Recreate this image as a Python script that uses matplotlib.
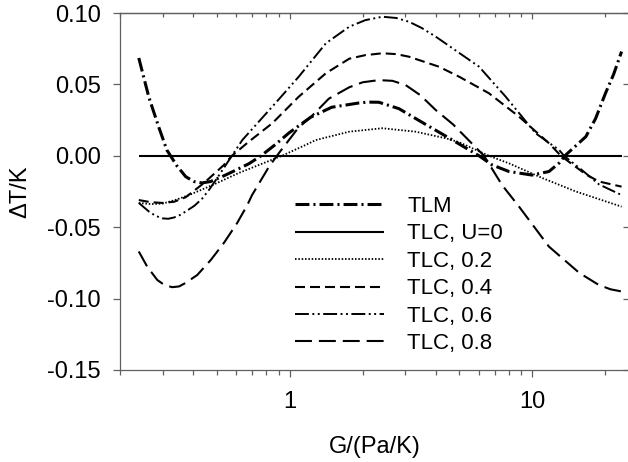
import matplotlib
matplotlib.use('Agg')
import matplotlib.pyplot as plt
from matplotlib.ticker import FixedLocator, NullFormatter, NullLocator

plt.rcParams['font.family'] = ['Liberation Sans', 'DejaVu Sans']
plt.rcParams['lines.scale_dashes'] = False

# ---- data ----
G_tlm = [0.239, 0.263, 0.289, 0.312, 0.323, 0.343, 0.373, 0.403, 0.435, 0.473,
         0.536, 0.618, 0.680, 0.762, 0.875, 0.993, 1.22, 1.49, 1.93, 2.1, 2.33,
         2.82, 3.63, 4.53, 6.03, 6.82, 8.01, 9.96, 11.7, 12.9, 13.6,
         16.6, 18.2, 20.0, 21.6, 23.3]
dT_tlm = [0.0685, 0.041, 0.020, 0.004, 0.0, -0.007, -0.0146, -0.018, -0.019, -0.018,
          -0.014, -0.009, -0.0055, 0.0, 0.008, 0.016, 0.027, 0.034, 0.037, 0.0376, 0.0375,
          0.033, 0.022, 0.0125, 0.0, -0.0064, -0.011, -0.0135, -0.011, -0.005, 0.0,
          0.0134, 0.026, 0.0438, 0.057, 0.073]

G_u0 = [0.239, 23.3]
dT_u0 = [0.0, 0.0]

G_02 = [0.239, 0.268, 0.299, 0.337, 0.385, 0.488, 0.618, 0.929, 1.16, 1.28,
        1.76, 2.41, 3.30, 4.39, 4.99, 6.62, 8.01, 11.0, 15.1, 23.3]
dT_02 = [-0.033, -0.0338, -0.0335, -0.031, -0.0275, -0.020, -0.012, 0.0, 0.0075, 0.011,
         0.0169, 0.0193, 0.0169, 0.0123, 0.0095, 0.0, -0.0053, -0.0156, -0.025, -0.0356]

G_04 = [0.239, 0.268, 0.299, 0.334, 0.373, 0.444, 0.536, 0.578, 0.680, 0.848,
        1.09, 1.41, 1.76, 2.05, 2.41, 2.75, 3.10, 4.12, 4.99, 6.62, 8.81, 11.7,
        13.1, 16.6, 18.8, 23.3]
dT_04 = [-0.031, -0.0325, -0.033, -0.0322, -0.029, -0.019, -0.0064, 0.0, 0.010, 0.0228,
         0.0414, 0.0578, 0.068, 0.0705, 0.0718, 0.0712, 0.0694, 0.0624, 0.0554, 0.0438, 0.0274, 0.0088,
         0.0, -0.013, -0.018, -0.0216]

G_06 = [0.239, 0.263, 0.28, 0.299, 0.316, 0.334, 0.353, 0.373, 0.405, 0.436, 0.467, 0.501,
        0.578, 0.638, 0.747, 0.875, 1.09, 1.41, 1.76, 2.05, 2.41, 2.75, 3.10, 3.5, 4.00,
        6.03, 7.76, 10.3, 12.9, 13.5, 16.0, 18.8, 23.3]
dT_06 = [-0.033, -0.039, -0.042, -0.0438, -0.0441, -0.0432, -0.0415, -0.039, -0.035, -0.030,
         -0.0235, -0.016, 0.0, 0.011, 0.024, 0.037, 0.0554, 0.0788, 0.0904, 0.0950, 0.0974,
         0.0965, 0.0939, 0.0895, 0.0834, 0.0624, 0.0414, 0.0158, 0.004, 0.0, -0.010, -0.020,
         -0.0275]

G_08 = [0.239, 0.259, 0.285, 0.305, 0.328, 0.35, 0.373, 0.416, 0.473, 0.536, 0.608, 0.669,
        0.700, 0.822, 0.904, 1.09, 1.22, 1.45, 1.76, 2.0, 2.33, 2.65, 3.00, 3.45, 4.00,
        4.71, 6.32, 7.50, 8.81, 11.7, 15.6, 18.8, 21.0, 23.3]
dT_08 = [-0.067, -0.0777, -0.087, -0.0905, -0.092, -0.0915, -0.089, -0.0835, -0.073,
         -0.061, -0.047, -0.0345, -0.0275, -0.0076, 0.002, 0.020, 0.027, 0.040, 0.048,
         0.0515, 0.053, 0.0525, 0.0496, 0.0425, 0.032, 0.022, 0.0, -0.0205, -0.0356,
         -0.0636, -0.082, -0.0905, -0.0935, -0.095]

labels = ['TLM', 'TLC, U=0', 'TLC, 0.2', 'TLC, 0.4', 'TLC, 0.6', 'TLC, 0.8']
yticks = [-0.15, -0.10, -0.05, 0.00, 0.05, 0.10]
ytick_labels = ['-0.15', '-0.10', '-0.05', '0.00', '0.05', '0.10']
xticks_major = [1, 10]
xtick_labels = ['1', '10']
xticks_minor = [0.2, 0.3, 0.4, 0.5, 0.6, 0.7, 0.8, 0.9, 2, 3, 4, 5, 6, 7, 8, 9, 20]

# ---- figure ----
fig = plt.figure(figsize=(6.28, 4.62), dpi=100)
ax = fig.add_axes([120/628, 92/462, 509/628, 357/462])

series = [
    (G_tlm, dT_tlm, dict(lw=2.2, linestyle=(0, (10, 2.9, 1.5, 2.9)))),
    (G_u0, dT_u0, dict(lw=1.5, linestyle='-')),
    (G_02, dT_02, dict(lw=1.3, linestyle=(0, (1.1, 1.3)))),
    (G_04, dT_04, dict(lw=1.5, linestyle=(0, (7.2, 3.6)))),
    (G_06, dT_06, dict(lw=1.4, linestyle=(0, (10, 2.5, 1.4, 2.5, 1.4, 2.5)))),
    (G_08, dT_08, dict(lw=1.5, linestyle=(0, (12.2, 5.0)))),
]
for (g, d, st), lab in zip(series, labels):
    ax.plot(g, d, color='black', label=lab, solid_capstyle='butt',
            dash_capstyle='butt', **st)

ax.set_xscale('log')
ax.set_xlim(0.2, 25)
ax.set_ylim(-0.15, 0.10)

spine_color = '#606060'
for s in ['left', 'bottom', 'top']:
    ax.spines[s].set_color(spine_color)
    ax.spines[s].set_linewidth(0.9)
ax.spines['right'].set_visible(False)

ax.xaxis.set_major_locator(FixedLocator(xticks_major))
ax.xaxis.set_minor_locator(FixedLocator(xticks_minor))
ax.set_xticklabels(xtick_labels)
ax.xaxis.set_minor_formatter(NullFormatter())
ax.set_yticks(yticks)
ax.set_yticklabels(ytick_labels)
ax.yaxis.set_minor_locator(NullLocator())

ax.tick_params(axis='x', which='major', direction='out', length=5, width=0.9,
               color=spine_color, labelsize=17, pad=10)
ax.tick_params(axis='x', which='minor', direction='out', length=3.5, width=0.9,
               color=spine_color)
ax.tick_params(axis='y', which='major', direction='out', length=5, width=0.9,
               color=spine_color, labelsize=17, pad=9)

# top / right inward ticks
secx = ax.secondary_xaxis('top')
secx.xaxis.set_major_locator(FixedLocator(xticks_major))
secx.xaxis.set_minor_locator(FixedLocator(xticks_minor))
secx.xaxis.set_major_formatter(NullFormatter())
secx.xaxis.set_minor_formatter(NullFormatter())
secx.tick_params(which='major', direction='in', length=4, width=0.9, color=spine_color)
secx.tick_params(which='minor', direction='in', length=3, width=0.9, color=spine_color)
secx.spines['top'].set_color(spine_color)
secx.spines['top'].set_linewidth(0.9)

secy = ax.secondary_yaxis('right')
secy.set_yticks(yticks)
secy.yaxis.set_major_formatter(NullFormatter())
secy.yaxis.set_minor_locator(NullLocator())
secy.tick_params(which='major', direction='in', length=4, width=0.9, color=spine_color)
secy.spines['right'].set_visible(False)

ax.set_xlabel('G/(Pa/K)', fontsize=17)
ax.set_ylabel('\u0394T/K', fontsize=17)
ax.xaxis.set_label_coords(0.5, -0.216)
ax.xaxis.label.set_va('center')
ax.yaxis.set_label_coords(-0.195, 0.5)
ax.yaxis.label.set_va('center')

ax.legend(loc='upper left', bbox_to_anchor=(295/628, 1 - 196/462),
          bbox_transform=fig.transFigure, frameon=False, fontsize=16,
          handlelength=4.0, handletextpad=1.05, labelspacing=0.29,
          borderpad=0, borderaxespad=0)

fig.savefig('out.png', dpi=100)
